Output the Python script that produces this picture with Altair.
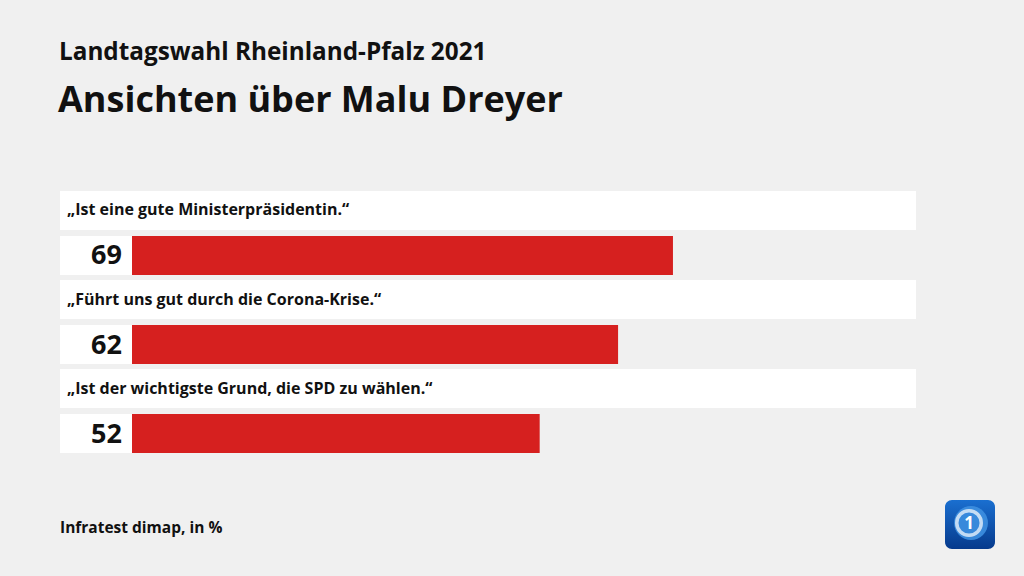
import altair as alt
import pandas as pd

supertitle = "Landtagswahl Rheinland-Pfalz 2021"
title = "Ansichten über Malu Dreyer"
source = "Infratest dimap, in %"
questions = [
    "„Ist eine gute Ministerpräsidentin.“",
    "„Führt uns gut durch die Corona-Krise.“",
    "„Ist der wichtigste Grund, die SPD zu wählen.“",
]
values = [69, 62, 52]

df = pd.DataFrame({"question": questions, "value": values})

FONT = "Open Sans"
BG = "#f0f0f0"
RED = "#d6201f"

x_scale = alt.Scale(domain=[0, 100], range=[132, 916])
y_scale = alt.Scale(domain=questions, range=[236, 453], paddingInner=0.562, paddingOuter=0)
X = alt.X("value:Q", scale=x_scale, axis=None)
Y = alt.Y("question:N", scale=y_scale, axis=None, sort=questions)

base = alt.Chart(df)

label_band = base.mark_rect(color="white", yOffset=-45).encode(
    x=alt.value(60), x2=alt.value(916), y=Y
)
num_box = base.mark_rect(color="white").encode(
    x=alt.value(60), x2=alt.value(132), y=Y
)
bars = base.mark_bar(color=RED, cornerRadius=0).encode(
    x=X, x2=alt.datum(0), y=Y
)
q_text = base.mark_text(
    align="left", baseline="middle", dy=-45, font=FONT, fontSize=16,
    fontWeight="bold", color="#111111"
).encode(x=alt.value(67), y=Y, text="question:N")
num_text = base.mark_text(
    align="right", baseline="middle", dy=1, font=FONT, fontSize=27,
    fontWeight="bold", color="#111111"
).encode(x=alt.value(122), y=Y, text="value:Q")

t1 = alt.Chart(pd.DataFrame({"t": [supertitle]})).mark_text(
    align="left", baseline="alphabetic", font=FONT, fontSize=24.3,
    fontWeight="bold", color="#111111"
).encode(x=alt.value(59), y=alt.value(60), text="t:N")
t2 = alt.Chart(pd.DataFrame({"t": [title]})).mark_text(
    align="left", baseline="alphabetic", font=FONT, fontSize=36,
    fontWeight="bold", color="#111111"
).encode(x=alt.value(58), y=alt.value(112), text="t:N")
src = alt.Chart(pd.DataFrame({"t": [source]})).mark_text(
    align="left", baseline="alphabetic", font=FONT, fontSize=15.5,
    fontWeight="bold", color="#111111"
).encode(x=alt.value(60), y=alt.value(533), text="t:N")

logo_df = pd.DataFrame({"a": [1]})
logo_bg = alt.Chart(logo_df).mark_rect(
    cornerRadius=7,
    fill=alt.Gradient(
        gradient="linear", x1=0, y1=0, x2=0, y2=1,
        stops=[alt.GradientStop(color="#1a6fd0", offset=0),
               alt.GradientStop(color="#063a8c", offset=1)],
    ),
).encode(x=alt.value(945), x2=alt.value(995), y=alt.value(500), y2=alt.value(549))
logo_globe = alt.Chart(logo_df).mark_circle(
    size=1150, color="#3d8fe0", opacity=0.9
).encode(x=alt.value(971), y=alt.value(523))
logo_ring = alt.Chart(logo_df).mark_circle(
    size=600, filled=False, stroke="white", strokeWidth=3.5
).encode(x=alt.value(969), y=alt.value(523))
logo_one = alt.Chart(logo_df).mark_text(
    text="1", font=FONT, fontSize=17, fontWeight="bold", color="white",
    align="center", baseline="middle"
).encode(x=alt.value(969), y=alt.value(524))

chart = alt.layer(
    label_band, num_box, bars, q_text, num_text, t1, t2, src,
    logo_bg, logo_globe, logo_ring, logo_one
).properties(
    width=1024, height=576, background=BG, padding=0,
    autosize=alt.AutoSizeParams(type="none"),
).configure_view(stroke=None, fill=BG)

chart.save("out.html", embed_options={"renderer": "svg", "actions": False})
